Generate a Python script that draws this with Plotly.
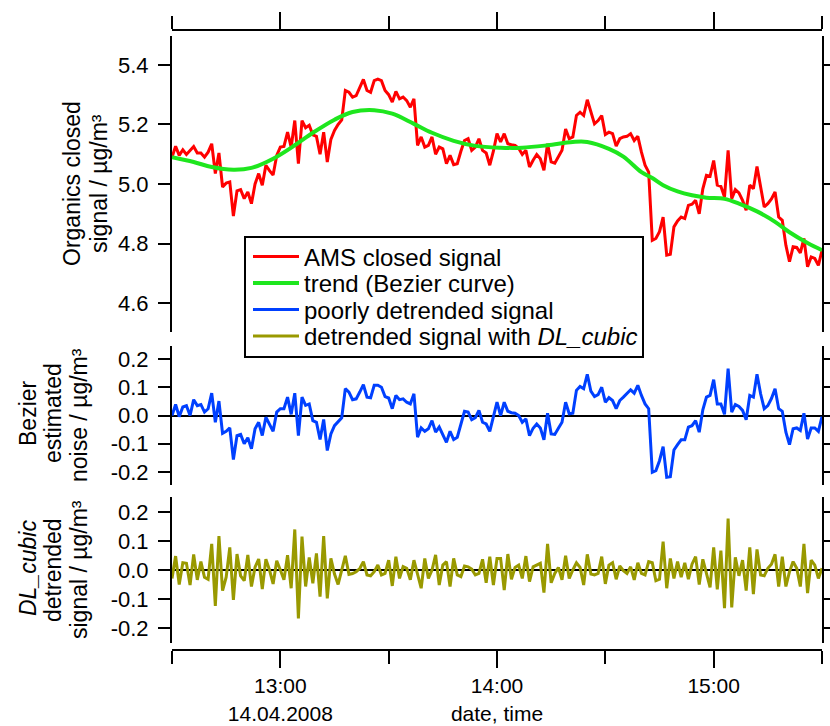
import pandas as pd
import plotly.graph_objects as go

# ---------------- data ----------------
ams_closed = [
    5.090, 5.127, 5.096, 5.115, 5.099, 5.113, 5.126, 5.104, 5.104, 5.090,
    5.107, 5.135, 5.035, 5.104, 4.990, 5.003, 5.007, 4.892, 4.977, 4.981,
    4.951, 4.973, 4.934, 5.000, 5.035, 4.996, 5.063, 5.045, 5.030, 5.096,
    5.124, 5.126, 5.174, 5.124, 5.213, 5.068, 5.213, 5.189, 5.197, 5.165,
    5.160, 5.100, 5.174, 5.074, 5.150, 5.180, 5.200, 5.215, 5.314, 5.308,
    5.292, 5.297, 5.323, 5.351, 5.314, 5.308, 5.347, 5.352, 5.347, 5.314,
    5.300, 5.275, 5.311, 5.286, 5.292, 5.280, 5.258, 5.286, 5.130, 5.158,
    5.124, 5.130, 5.158, 5.100, 5.124, 5.118, 5.068, 5.096, 5.065, 5.068,
    5.110, 5.146, 5.152, 5.113, 5.124, 5.152, 5.113, 5.104, 5.063, 5.110,
    5.169, 5.141, 5.169, 5.135, 5.132, 5.130, 5.120, 5.099, 5.113, 5.057,
    5.080, 5.099, 5.085, 5.046, 5.135, 5.074, 5.070, 5.090, 5.113, 5.185,
    5.152, 5.158, 5.230, 5.241, 5.230, 5.283, 5.241, 5.202, 5.213, 5.230,
    5.166, 5.174, 5.169, 5.127, 5.152, 5.158, 5.160, 5.169, 5.146, 5.160,
    5.107, 5.063, 5.040, 4.811, 4.817, 4.840, 4.889, 4.761, 4.764, 4.856,
    4.876, 4.889, 4.884, 4.928, 4.932, 4.945, 4.900, 4.984, 5.029, 5.026,
    5.079, 4.996, 4.992, 4.956, 5.113, 4.951, 4.981, 4.970, 4.945, 4.912,
    4.996, 4.984, 5.059, 4.996, 4.923, 4.934, 4.950, 4.973, 4.889, 4.878,
    4.794, 4.739, 4.789, 4.787, 4.769, 4.817, 4.722, 4.755, 4.750, 4.727, 4.777,
]

poorly_detrended = [
    0.000, 0.039, -0.004, 0.030, 0.035, 0.000, 0.056, 0.035, 0.039, 0.012,
    0.024, 0.079, -0.024, 0.051, -0.063, -0.056, -0.044, -0.156, -0.071, -0.067,
    -0.100, -0.079, -0.118, -0.047, -0.024, -0.071, -0.006, -0.030, -0.056, 0.012,
    0.024, 0.024, 0.065, 0.004, 0.079, -0.071, 0.065, 0.036, 0.041, -0.018,
    -0.024, -0.085, -0.014, -0.124, -0.065, -0.036, -0.020, -0.008, 0.095, 0.083,
    0.056, 0.059, 0.083, 0.109, 0.065, 0.063, 0.107, 0.107, 0.100, 0.067,
    0.062, 0.024, 0.071, 0.056, 0.059, 0.047, 0.041, 0.077, -0.077, -0.044,
    -0.056, -0.047, -0.018, -0.059, -0.041, -0.071, -0.095, -0.056, -0.085, -0.077,
    -0.030, 0.015, 0.012, -0.015, -0.008, 0.018, -0.024, -0.030, -0.056, 0.000,
    0.047, 0.000, 0.047, 0.015, 0.010, 0.008, 0.000, -0.024, -0.012, -0.071,
    -0.045, -0.030, -0.044, -0.086, 0.008, -0.065, -0.067, -0.045, -0.024, 0.047,
    0.006, 0.008, 0.089, 0.103, 0.095, 0.146, 0.086, 0.067, 0.074, 0.100,
    0.047, 0.063, 0.053, 0.024, 0.053, 0.065, 0.080, 0.091, 0.079, 0.107,
    0.071, 0.041, 0.024, -0.201, -0.195, -0.160, -0.110, -0.219, -0.217, -0.122,
    -0.103, -0.086, -0.086, -0.041, -0.036, -0.018, -0.059, 0.020, 0.065, 0.071,
    0.127, 0.041, 0.041, 0.004, 0.166, 0.012, 0.039, 0.032, 0.018, -0.015,
    0.071, 0.065, 0.146, 0.077, 0.024, 0.035, 0.060, 0.095, 0.024, 0.015,
    -0.059, -0.103, -0.047, -0.044, -0.053, 0.008, -0.083, -0.044, -0.044, -0.056, -0.004,
]

dl_cubic = [
    -0.029, 0.048, -0.050, 0.025, 0.023, -0.052, 0.054, -0.034, 0.029, -0.025,
    -0.032, 0.090, -0.124, 0.117, -0.071, -0.025, 0.078, -0.103, 0.055, -0.020,
    -0.037, 0.052, -0.057, 0.010, 0.038, -0.066, 0.037, 0.000, -0.048, 0.032,
    0.000, -0.034, 0.051, -0.063, 0.140, -0.167, 0.115, -0.057, 0.043, -0.046,
    0.057, -0.092, 0.117, -0.098, 0.040, -0.014, -0.050, 0.000, 0.049, -0.015,
    -0.012, -0.006, 0.005, 0.029, -0.017, -0.020, -0.006, 0.017, -0.017, -0.012,
    0.034, -0.055, 0.046, -0.029, 0.012, 0.006, -0.034, 0.034, -0.020, -0.063,
    0.040, -0.029, 0.000, 0.052, -0.052, 0.017, 0.029, -0.057, 0.040, -0.017,
    -0.023, 0.014, 0.011, 0.003, -0.017, -0.012, 0.037, -0.044, 0.046, -0.052,
    0.040, 0.040, -0.069, 0.055, -0.032, 0.009, 0.017, -0.029, 0.048, -0.040,
    0.011, 0.017, 0.023, -0.078, 0.090, -0.044, -0.012, 0.009, -0.034, 0.049,
    -0.029, 0.000, 0.025, 0.009, -0.052, 0.054, -0.014, -0.017, -0.012, 0.046,
    -0.048, 0.017, 0.025, -0.032, 0.014, -0.002, -0.012, 0.011, -0.034, 0.025,
    -0.012, -0.017, 0.029, 0.025, -0.037, -0.032, 0.098, -0.063, 0.040, -0.029,
    0.029, -0.025, 0.025, -0.032, 0.020, 0.046, -0.050, 0.037, -0.010, -0.060,
    0.078, -0.067, 0.067, -0.132, 0.178, -0.129, 0.044, -0.020, 0.034, -0.071,
    0.078, -0.083, 0.071, -0.017, -0.020, 0.006, 0.020, 0.054, -0.057, 0.046,
    -0.057, -0.006, 0.029, 0.006, -0.057, 0.090, -0.080, 0.034, 0.017, -0.029, 0.006,
]

# Bezier trend, sampled at these minutes after 12:30
trend_minutes = [0, 6, 11, 17, 22, 28, 34, 39, 45, 50, 56, 61, 67, 72, 78, 84,
                 91, 97, 104, 111, 115, 121, 125, 130, 133, 136, 140, 144, 148,
                 153, 157, 162, 167, 171, 176, 180]
trend_values = [5.090, 5.074, 5.057, 5.048, 5.054, 5.085, 5.130, 5.172, 5.216,
                5.242, 5.248, 5.236, 5.202, 5.172, 5.145, 5.128, 5.122, 5.122,
                5.130, 5.141, 5.141, 5.118, 5.092, 5.040, 5.020, 4.996, 4.975,
                4.962, 4.954, 4.950, 4.934, 4.908, 4.873, 4.838, 4.802, 4.778]

series_names = ["AMS closed signal", "trend (Bezier curve)",
                "poorly detrended signal", "detrended signal with <i>DL_cubic</i>"]

start_time = "2008-04-14 12:30"
end_time = "2008-04-14 15:30"
hour_ticks = ["2008-04-14 13:00", "2008-04-14 14:00", "2008-04-14 15:00"]
# second lines: the date under 13:00 and the axis name under 14:00
hour_labels = ["13:00<br>14.04.2008", "14:00<br>date, time", "15:00"]
half_ticks = ["2008-04-14 12:30", "2008-04-14 13:30", "2008-04-14 14:30", "2008-04-14 15:30"]

top_ticks = [4.6, 4.8, 5.0, 5.2, 5.4]
top_labels = ["4.6", "4.8", "5.0", "5.2", "5.4"]
small_ticks = [-0.2, -0.1, 0.0, 0.1, 0.2]
small_labels = ["-0.2", "-0.1", "0.0", "0.1", "0.2"]

# ---------------- layout helpers (pixel geometry of the page) ----------------
W, H = 830, 726
ML, MR, MT, MB = 172, 8, 30, 76
PW, PH = W - ML - MR, H - MT - MB


def px_x(px):
    return (px - ML) / PW


def px_y(py):
    return (H - MB - py) / PH


t0 = pd.Timestamp(start_time)
times = [t0 + pd.Timedelta(minutes=i) for i in range(len(ams_closed))]
trend_times = [t0 + pd.Timedelta(minutes=m) for m in trend_minutes]

FONT = "Liberation Sans, Arial, Helvetica, sans-serif"
TICK_SIZE = 22
XTICK_SIZE = 21
TITLE_SIZE = 23
LEGEND_SIZE = 24
RED = "#ff0000"
GREEN = "#1ee61e"
BLUE = "#0040ff"
OLIVE = "#999900"

fig = go.Figure()
fig.add_trace(go.Scatter(x=times, y=ams_closed, mode="lines", name=series_names[0],
                         line=dict(color=RED, width=3), xaxis="x2", yaxis="y",
                         legend="legend"))
fig.add_trace(go.Scatter(x=trend_times, y=trend_values, mode="lines", name=series_names[1],
                         line=dict(color=GREEN, width=4, shape="spline", smoothing=1.0),
                         xaxis="x2", yaxis="y", legend="legend2"))
fig.add_trace(go.Scatter(x=times, y=poorly_detrended, mode="lines", name=series_names[2],
                         line=dict(color=BLUE, width=3), xaxis="x", yaxis="y2",
                         legend="legend3"))
fig.add_trace(go.Scatter(x=times, y=dl_cubic, mode="lines", name=series_names[3],
                         line=dict(color=OLIVE, width=3), xaxis="x", yaxis="y3",
                         legend="legend4"))

axis_common = dict(showline=True, linecolor="black", linewidth=2, ticks="outside",
                   tickcolor="black", tickwidth=2, showgrid=False, automargin=False,
                   tickfont=dict(family=FONT, size=TICK_SIZE, color="black"))

minor_x = dict(tickvals=half_ticks, ticks="outside", ticklen=13, tickwidth=2,
               tickcolor="black", showgrid=False)

legend_rows = [257, 283.5, 310, 336.5]   # pixel centres of the legend rows
legend_common = dict(xanchor="left", yanchor="middle", bgcolor="rgba(0,0,0,0)",
                     borderwidth=0, itemwidth=46,
                     font=dict(family=FONT, size=LEGEND_SIZE, color="black"))
legends = {}
for i, yc in enumerate(legend_rows):
    key = "legend" if i == 0 else f"legend{i + 1}"
    legends[key] = dict(x=px_x(248), y=px_y(yc), **legend_common)

xaxis_main = dict(axis_common)
xaxis_main["tickfont"] = dict(family=FONT, size=XTICK_SIZE, color="black")

fig.update_layout(
    template="none",
    width=W, height=H,
    margin=dict(l=ML, r=MR, t=MT, b=MB, autoexpand=False),
    paper_bgcolor="white", plot_bgcolor="white",
    font=dict(family=FONT, size=TICK_SIZE, color="black"),
    hovermode=False,
    showlegend=True,
    **legends,
    xaxis=dict(**xaxis_main, domain=[0, 1], range=[start_time, end_time],
               anchor="free", position=0, ticklen=17,
               tickvals=hour_ticks, ticktext=hour_labels,
               ticklabelstandoff=0, minor=minor_x, zeroline=False),
    xaxis2=dict(**axis_common, domain=[0, 1], range=[start_time, end_time],
                overlaying="x", matches="x", side="top", anchor="free", position=1,
                ticklen=17, tickvals=hour_ticks, showticklabels=False,
                minor=minor_x, zeroline=False),
    yaxis=dict(**axis_common, domain=[px_y(332), px_y(36)], range=[4.503, 5.497],
               anchor="x", mirror="ticks", ticklen=12, ticklabelstandoff=5,
               tickvals=top_ticks, ticktext=top_labels, zeroline=False),
    yaxis2=dict(**axis_common, domain=[px_y(485), px_y(346)], range=[-0.246, 0.246],
                anchor="x", mirror="ticks", ticklen=12, ticklabelstandoff=5,
                tickvals=small_ticks, ticktext=small_labels,
                zeroline=True, zerolinecolor="black", zerolinewidth=1.5),
    yaxis3=dict(**axis_common, domain=[px_y(643), px_y(497)], range=[-0.252, 0.252],
                anchor="x", mirror="ticks", ticklen=12, ticklabelstandoff=5,
                tickvals=small_ticks, ticktext=small_labels,
                zeroline=True, zerolinecolor="black", zerolinewidth=1.5),
)

# legend frame (opaque white box with black border, like the original)
fig.add_shape(type="rect", xref="paper", yref="paper",
              x0=px_x(245), x1=px_x(643), y0=px_y(357), y1=px_y(237),
              line=dict(color="black", width=2), fillcolor="white", layer="above")

# rotated y-axis titles, one annotation per line: (text, centre x px, centre y px)
title_lines = [
    ("Organics closed", 72, 184),
    ("signal / µg/m³", 99, 184),
    ("Bezier", 28, 413),
    ("estimated", 53, 413),
    ("noise / µg/m³", 79, 415),
    ("<i>DL_cubic</i>", 28, 568),
    ("detrended", 53, 570),
    ("signal / µg/m³", 79, 570),
]
for text, cx, cy in title_lines:
    fig.add_annotation(text=text, x=px_x(cx), y=px_y(cy), xref="paper", yref="paper",
                       xanchor="center", yanchor="middle", textangle=-90,
                       showarrow=False, align="center",
                       font=dict(family=FONT, size=TITLE_SIZE, color="black"))

fig.write_html("out.html")
